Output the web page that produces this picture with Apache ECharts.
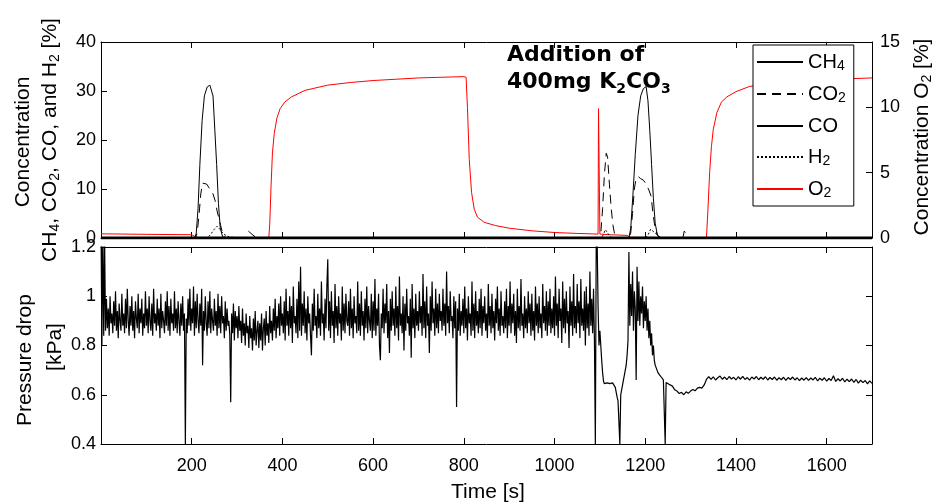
<!DOCTYPE html>
<html>
<head>
<meta charset="utf-8">
<script src="https://cdn.jsdelivr.net/npm/echarts@6/dist/echarts.min.js"></script>
<style>
html, body { margin: 0; padding: 0; background: #fff; }
#chart { width: 935px; height: 502px; }
</style>
</head>
<body>
<div id="chart"></div>
<script>
// gas concentrations [t (s), value (%)]
const ch4 = [[0, 0], [207, 0], [210, 1], [214, 6], [218, 15], [223, 24], [228, 29], [234, 30.8], [240, 31.2], [244, 31.4],
  [247, 29], [251, 22], [255, 15], [259, 7], [263, 2], [268, 0.3], [275, 0],
  [1164, 0], [1168, 2], [1173, 9], [1178, 17], [1184, 25], [1190, 29], [1196, 30.5], [1202, 30.9], [1206, 28],
  [1210, 22], [1214, 15], [1218, 8], [1222, 3], [1227, 0.5], [1235, 0], [1700, 0]]
const co2 = [[0, 0], [208, 0], [212, 1], [216, 4.5], [220, 9], [224, 11.2], [228, 11.5], [233, 11], [240, 10], [247, 9],
  [252, 7.5], [256, 5.5], [260, 4], [264, 2.5], [268, 1], [273, 0.2], [280, 0],
  [322, 0], [325, 1.4], [328, 1.2], [335, 0.6], [342, 0.1], [348, 0],
  [1098, 0], [1102, 1], [1106, 6], [1110, 13], [1114, 17.3], [1117, 16.5], [1121, 11], [1125, 6], [1129, 2.5], [1133, 0.5], [1138, 0],
  [1165, 0], [1168, 1], [1172, 5], [1176, 10], [1180, 12.3], [1185, 12.5], [1190, 12.1], [1196, 11.8], [1202, 11],
  [1208, 9.8], [1213, 8.5], [1217, 5], [1221, 2.5], [1226, 0.8], [1232, 0],
  [1283, 0], [1286, 1.4], [1290, 1.1], [1295, 0.5], [1300, 0], [1700, 0]]
const co = [[0, 0], [1700, 0]]
const h2 = [[0, 0], [230, 0], [240, 0.5], [250, 1.8], [256, 2.4], [262, 1.8], [270, 0.8], [280, 0.3], [300, 0],
  [1104, 0], [1108, 0.8], [1112, 1.7], [1116, 1.2], [1122, 0.3], [1128, 0],
  [1200, 0], [1206, 0.6], [1212, 1.8], [1216, 2], [1222, 1], [1230, 0.3], [1240, 0], [1700, 0]]
const o2 = [[0, 0.32], [100, 0.28], [200, 0.25], [208, 0.1], [215, 0.03], [370, 0.03], [372, 1], [375, 4], [378, 6.5],
  [382, 8], [388, 9.2], [395, 9.9], [405, 10.4], [420, 10.8], [450, 11.3], [500, 11.7], [550, 11.9], [600, 12.05],
  [650, 12.15], [700, 12.25], [750, 12.3], [800, 12.35], [805, 12.3], [808, 10], [812, 6], [817, 3.5], [823, 2.2],
  [830, 1.6], [845, 1.2], [870, 0.95], [900, 0.75], [950, 0.55], [1000, 0.42], [1050, 0.35], [1096, 0.3],
  [1097, 9.9], [1099, 9.9], [1100, 0.3], [1120, 0.25], [1160, 0.2], [1168, 0.05], [1335, 0.02], [1338, 2],
  [1342, 5], [1346, 7], [1350, 8.3], [1358, 9.6], [1368, 10.4], [1380, 10.8], [1400, 11.2], [1430, 11.6],
  [1480, 11.85], [1550, 12.05], [1620, 12.15], [1700, 12.25]]

// pressure drop [kPa]: every 2 s from t = 0 to 1248 (noisy part)
const pressureFastStep = 2
const pressureFast = [
  1.3, 0.8, 1.28, 0.84, 1.22, 0.86, 0.99, 0.87, 0.95, 0.84, 1.0, 0.89, 0.93, 0.85, 0.98, 0.88, 1.02, 0.86, 0.94, 0.83, 0.97, 0.9, 0.86, 1.01, 0.88,
  0.93, 0.85, 0.99, 0.87, 1.03, 0.9, 0.84, 0.96, 0.88, 1.0, 0.86, 0.94, 0.83, 0.98, 0.91, 0.87, 1.01, 0.85, 0.95, 0.89, 0.99, 0.84, 0.93, 0.87, 1.02,
  0.88, 0.95, 0.85, 1.0, 0.9, 0.86, 0.97, 0.84, 1.03, 0.89, 0.93, 0.86, 0.99, 0.88, 0.95, 0.83, 1.01, 0.87, 0.94, 0.9, 0.85, 0.98, 0.88, 1.02, 0.86,
  0.96, 0.84, 0.99, 0.89, 0.93, 0.86, 1.02, 0.87, 0.95, 0.85, 0.98, 0.9, 0.84, 0.97, 0.88, 1.0, 0.86, 0.93, 0.4, 0.91, 0.85, 0.99, 0.88, 1.03, 0.86,
  0.95, 0.89, 1.04, 0.84, 0.98, 0.87, 1.01, 0.9, 0.85, 0.97, 0.88, 1.03, 0.72, 0.94, 0.86, 1.0, 0.89, 0.84, 0.98, 0.87, 1.02, 0.85, 0.95, 0.9, 0.86,
  0.99, 0.88, 0.94, 0.84, 1.01, 0.87, 0.96, 0.85, 1.0, 0.89, 0.92, 0.83, 0.98, 0.86, 0.95, 0.88, 0.9, 0.84, 0.57, 0.93, 0.85, 0.97, 0.82, 0.94, 0.87,
  0.92, 0.83, 0.96, 0.86, 0.9, 0.81, 0.95, 0.84, 0.89, 0.8, 0.93, 0.85, 0.88, 0.79, 0.92, 0.83, 0.87, 0.78, 0.91, 0.82, 0.94, 0.8, 0.86, 0.9, 0.79,
  0.89, 0.82, 0.93, 0.78, 0.87, 0.91, 0.8, 0.94, 0.84, 0.89, 0.81, 0.96, 0.85, 0.9, 0.82, 0.95, 0.86, 0.99, 0.83, 0.92, 0.87, 0.97, 0.84, 1.0, 0.88,
  0.93, 0.85, 0.98, 0.82, 1.03, 0.88, 0.94, 0.84, 1.0, 0.87, 0.96, 0.81, 1.04, 0.89, 0.92, 0.85, 0.99, 0.83, 1.06, 0.86, 1.12, 0.84, 0.97, 0.88, 1.02,
  0.85, 0.95, 0.82, 1.0, 0.89, 0.93, 0.84, 0.76, 0.97, 0.86, 1.03, 0.88, 0.92, 0.83, 1.01, 0.87, 0.95, 0.84, 1.06, 0.89, 0.93, 0.82, 0.99, 0.87, 1.04,
  1.15, 0.86, 0.98, 0.83, 1.02, 0.88, 0.94, 0.81, 1.05, 0.87, 0.96, 0.84, 1.0, 0.89, 0.93, 0.82, 1.04, 0.86, 0.97, 0.85, 1.01, 0.9, 0.88, 0.98, 0.84,
  1.03, 0.87, 0.95, 0.83, 1.0, 0.89, 0.92, 0.85, 1.06, 0.86, 0.97, 0.84, 1.02, 0.88, 0.94, 0.82, 0.99, 0.87, 1.04, 0.85, 0.96, 0.9, 0.86, 1.01, 0.83,
  0.98, 0.86, 1.07, 0.84, 0.95, 0.88, 1.01, 0.8, 0.74, 0.93, 0.87, 1.03, 0.85, 0.97, 0.89, 1.05, 0.83, 0.94, 0.77, 0.99, 0.86, 1.02, 0.88, 0.95, 0.84,
  1.04, 0.87, 0.96, 0.82, 1.08, 0.88, 0.93, 0.85, 1.0, 0.78, 0.97, 0.86, 1.03, 0.89, 0.92, 0.84, 0.99, 0.75, 1.05, 0.87, 0.95, 0.83, 1.01, 0.88, 0.94,
  0.86, 1.02, 0.89, 0.96, 0.84, 1.09, 0.87, 0.98, 0.83, 1.04, 0.88, 0.93, 0.77, 1.0, 0.86, 1.06, 0.89, 0.95, 0.84, 1.03, 0.87, 0.97, 0.85, 1.01, 0.9,
  0.94, 0.86, 1.03, 0.88, 0.97, 0.84, 1.1, 0.89, 0.96, 0.85, 1.02, 0.9, 0.92, 0.83, 1.0, 0.87, 0.98, 0.55, 0.95, 0.86, 1.01, 0.84, 0.94, 0.88, 0.99,
  0.85, 1.04, 0.87, 0.95, 0.82, 1.0, 0.89, 0.93, 0.84, 1.06, 0.86, 0.97, 0.83, 1.02, 0.88, 0.94, 0.85, 0.99, 0.87, 1.03, 0.84, 0.96, 0.89, 1.0, 0.86,
  0.93, 0.83, 1.05, 0.88, 0.96, 0.85, 1.01, 0.87, 0.94, 0.82, 0.99, 0.89, 1.04, 0.86, 0.95, 0.84, 1.02, 0.88, 0.92, 0.85, 0.98, 0.87, 1.03, 0.83, 0.96,
  0.88, 1.06, 0.85, 0.97, 0.89, 1.01, 0.84, 0.94, 0.81, 1.03, 0.87, 0.96, 0.86, 1.07, 0.88, 0.93, 0.83, 1.0, 0.87, 0.95, 0.85, 1.02, 0.89, 0.97, 0.84,
  1.01, 0.86, 0.94, 0.82, 1.04, 0.88, 0.97, 0.85, 1.0, 0.87, 0.93, 0.83, 1.05, 0.89, 0.96, 0.86, 1.02, 0.84, 0.98, 0.88, 1.03, 0.85, 0.95, 0.87, 1.0,
  0.84, 1.08, 0.88, 0.97, 0.83, 1.03, 0.9, 0.95, 0.81, 1.06, 0.87, 0.99, 0.85, 1.02, 0.89, 0.94, 0.79, 1.04, 0.88, 0.98, 0.84, 1.09, 0.87, 0.96, 0.85,
  1.05, 0.89, 0.98, 0.83, 1.07, 0.88, 0.95, 0.86, 1.02, 0.8, 1.04, 0.87, 0.97, 0.84, 1.1, 0.88, 0.99, 0.85, 1.03, 0.82, 0.4, 1.25, 1.22, 0.96, 0.8,
  0.86, 0.8, 0.74, 0.69, 0.655, 0.645, 0.65, 0.64, 0.648, 0.642, 0.652, 0.645, 0.65, 0.643, 0.648, 0.64, 0.645, 0.63, 0.61, 0.59, 0.575, 0.58, 0.4, 0.6, 0.62,
  0.64, 0.66, 0.68, 0.7, 0.72, 0.76, 0.82, 1.18, 0.88, 1.05, 0.92, 1.1, 0.86, 1.02, 0.95, 0.66, 1.12, 0.9, 1.06, 0.88, 1.0, 0.93, 1.04, 0.87, 0.98,
  0.9, 1.0, 0.86, 0.95, 0.83, 0.9, 0.8, 0.85, 0.76, 0.8, 0.74, 0.72, 0.71, 0.7, 0.69, 0.685, 0.68, 0.675, 0.67, 0.665, 0.66, 0.655, 0.4, 0.65, 0.645
]

// pressure drop [kPa]: every 5 s from t = 1250 to 1700 (settled part)
const pressureSlowStart = 1250
const pressureSlowStep = 5
const pressureSlow = [
  0.655, 0.64, 0.635, 0.62, 0.615, 0.605, 0.61, 0.60, 0.612, 0.606,
  0.615, 0.621, 0.616, 0.627, 0.63, 0.627, 0.64, 0.662, 0.674, 0.662,
  0.673, 0.66, 0.669, 0.676, 0.663, 0.672, 0.661, 0.674, 0.664, 0.671,
  0.66, 0.673, 0.663, 0.675, 0.662, 0.67, 0.659, 0.672, 0.664, 0.674,
  0.661, 0.671, 0.663, 0.673, 0.66, 0.67, 0.662, 0.672, 0.659, 0.669,
  0.661, 0.671, 0.658, 0.67, 0.662, 0.672, 0.66, 0.669, 0.657, 0.668,
  0.659, 0.67, 0.658, 0.668, 0.66, 0.671, 0.656, 0.667, 0.659, 0.669,
  0.655, 0.666, 0.658, 0.677, 0.654, 0.665, 0.656, 0.667, 0.652, 0.663,
  0.653, 0.664, 0.65, 0.662, 0.647, 0.659, 0.649, 0.658, 0.644, 0.656,
  0.646
]

const FONT = 'Liberation Sans, Arial, sans-serif'
const subStyle = { fontSize: 14, lineHeight: 8, verticalAlign: 'bottom', fontFamily: FONT, fill: '#000', color: '#000' }
const baseStyle = { fontSize: 21, lineHeight: 24, fontFamily: FONT, fill: '#000', color: '#000' }

const legendLabels = {
  CH4: '{b|CH}{s|4}',
  CO2: '{b|CO}{s|2}',
  CO: '{b|CO}',
  H2: '{b|H}{s|2}',
  O2: '{b|O}{s|2}',
}

const chart = echarts.init(document.getElementById('chart'))

function xAxis(grid, pos, labels) {
  return {
    type: 'value',
    gridIndex: grid,
    position: pos,
    min: 0,
    max: 1700,
    interval: 200,
    axisLine: { onZero: false, lineStyle: { color: '#000', width: 1 } },
    axisTick: { inside: true, length: 6, lineStyle: { color: '#000' } },
    axisLabel: {
      show: labels,
      showMinLabel: false,
      showMaxLabel: false,
      color: '#000',
      fontSize: 18,
      fontFamily: FONT,
      margin: 13,
      formatter: (v) => String(v),
    },
    splitLine: { show: false },
  }
}

function yAxis(grid, pos, min, max, interval, labels) {
  return {
    type: 'value',
    gridIndex: grid,
    position: pos,
    min: min,
    max: max,
    interval: interval,
    axisLine: { show: true, onZero: false, lineStyle: { color: '#000', width: 1 } },
    axisTick: { inside: true, length: 6, lineStyle: { color: '#000' } },
    axisLabel: { show: labels, color: '#000', fontSize: 18, fontFamily: FONT, margin: pos === 'left' ? 5 : 8 },
    splitLine: { show: false },
  }
}

function gasSeries(name, data, lineStyle, yIndex, z) {
  return {
    name: name,
    type: 'line',
    xAxisIndex: 0,
    yAxisIndex: yIndex,
    data: data,
    symbol: 'none',
    z: z,
    lineStyle: lineStyle,
    itemStyle: { color: lineStyle.color },
  }
}

const pressureData = pressureFast.map((v, i) => [i * pressureFastStep, v])
  .concat(pressureSlow.map((v, i) => [pressureSlowStart + i * pressureSlowStep, v]))

const option = {
  animation: false,
  backgroundColor: '#fff',
  grid: [
    { left: 101, right: 63, top: 42, height: 196 },
    { left: 101, right: 63, top: 247, height: 197 },
  ],
  xAxis: [xAxis(0, 'bottom', false), xAxis(0, 'top', false), xAxis(1, 'bottom', true), xAxis(1, 'top', false)],
  yAxis: [
    yAxis(0, 'left', 0, 40, 10, true),
    yAxis(0, 'right', 0, 15, 5, true),
    yAxis(1, 'left', 0.4, 1.2, 0.2, true),
    yAxis(1, 'right', 0.4, 1.2, 0.2, false),
  ],
  legend: {
    data: ['CH4', 'CO2', 'CO', 'H2', 'O2'],
    orient: 'vertical',
    left: 753,
    top: 45,
    itemWidth: 46,
    itemHeight: 14,
    itemGap: 11,
    padding: [7, 8, 6, 3],
    backgroundColor: '#fff',
    borderColor: '#000',
    borderWidth: 1,
    borderRadius: 0,
    itemStyle: { opacity: 0 },
    formatter: (name) => legendLabels[name],
    textStyle: {
      color: '#000',
      fontFamily: FONT,
      fontSize: 20,
      rich: { b: { fontSize: 20, lineHeight: 22, fontFamily: FONT, color: '#000' }, s: { fontSize: 14, lineHeight: 8, verticalAlign: 'bottom', fontFamily: FONT, color: '#000' } },
    },
  },
  graphic: [
    {
      type: 'text', x: 23, y: 142, rotation: Math.PI / 2,
      style: { text: 'Concentration', fontSize: 21, fontFamily: FONT, fill: '#000', align: 'center', verticalAlign: 'middle' },
    },
    {
      type: 'text', x: 50, y: 140, rotation: Math.PI / 2,
      style: {
        text: '{b|CH}{s|4}{b|, CO}{s|2}{b|, CO, and H}{s|2}{b| [%]}',
        align: 'center', verticalAlign: 'middle', rich: { b: baseStyle, s: subStyle },
      },
    },
    {
      type: 'text', x: 922, y: 137, rotation: Math.PI / 2,
      style: {
        text: '{b|Concentration O}{s|2}{b| [%]}',
        align: 'center', verticalAlign: 'middle', rich: { b: baseStyle, s: subStyle },
      },
    },
    {
      type: 'text', x: 25, y: 360, rotation: Math.PI / 2,
      style: { text: 'Pressure drop', fontSize: 21, fontFamily: FONT, fill: '#000', align: 'center', verticalAlign: 'middle' },
    },
    {
      type: 'text', x: 55, y: 347, rotation: Math.PI / 2,
      style: { text: '[kPa]', fontSize: 21, fontFamily: FONT, fill: '#000', align: 'center', verticalAlign: 'middle' },
    },
    {
      type: 'text', x: 488, y: 492,
      style: { text: 'Time [s]', fontSize: 21, fontFamily: FONT, fill: '#000', align: 'center', verticalAlign: 'middle' },
    },
    {
      type: 'text', x: 507, y: 42, z: 10,
      style: {
        text: '{a|Addition of}\n{a|400mg K}{k|2}{a|CO}{k|3}',
        align: 'left', verticalAlign: 'top',
        rich: {
          a: { fontSize: 22, lineHeight: 27, fontWeight: 'bold', fontFamily: 'DejaVu Sans', fill: '#000' },
          k: { fontSize: 14, lineHeight: 14, verticalAlign: 'bottom', fontWeight: 'bold', fontFamily: 'DejaVu Sans', fill: '#000' },
        },
      },
    },
  ],
  series: [
    gasSeries('O2', o2, { color: '#ff0000', width: 1 }, 1, 2),
    gasSeries('CH4', ch4, { color: '#000', width: 1 }, 0, 3),
    gasSeries('CO2', co2, { color: '#000', width: 1, type: [9, 6] }, 0, 3),
    gasSeries('CO', co, { color: '#000', width: 3 }, 0, 4),
    gasSeries('H2', h2, { color: '#000', width: 1, type: [2, 2] }, 0, 3),
    {
      name: 'Pressure drop',
      type: 'line',
      xAxisIndex: 2,
      yAxisIndex: 2,
      data: pressureData,
      symbol: 'none',
      sampling: null,
      lineStyle: { color: '#000', width: 1.2 },
    },
  ],
}

chart.setOption(option)
</script>
</body>
</html>
